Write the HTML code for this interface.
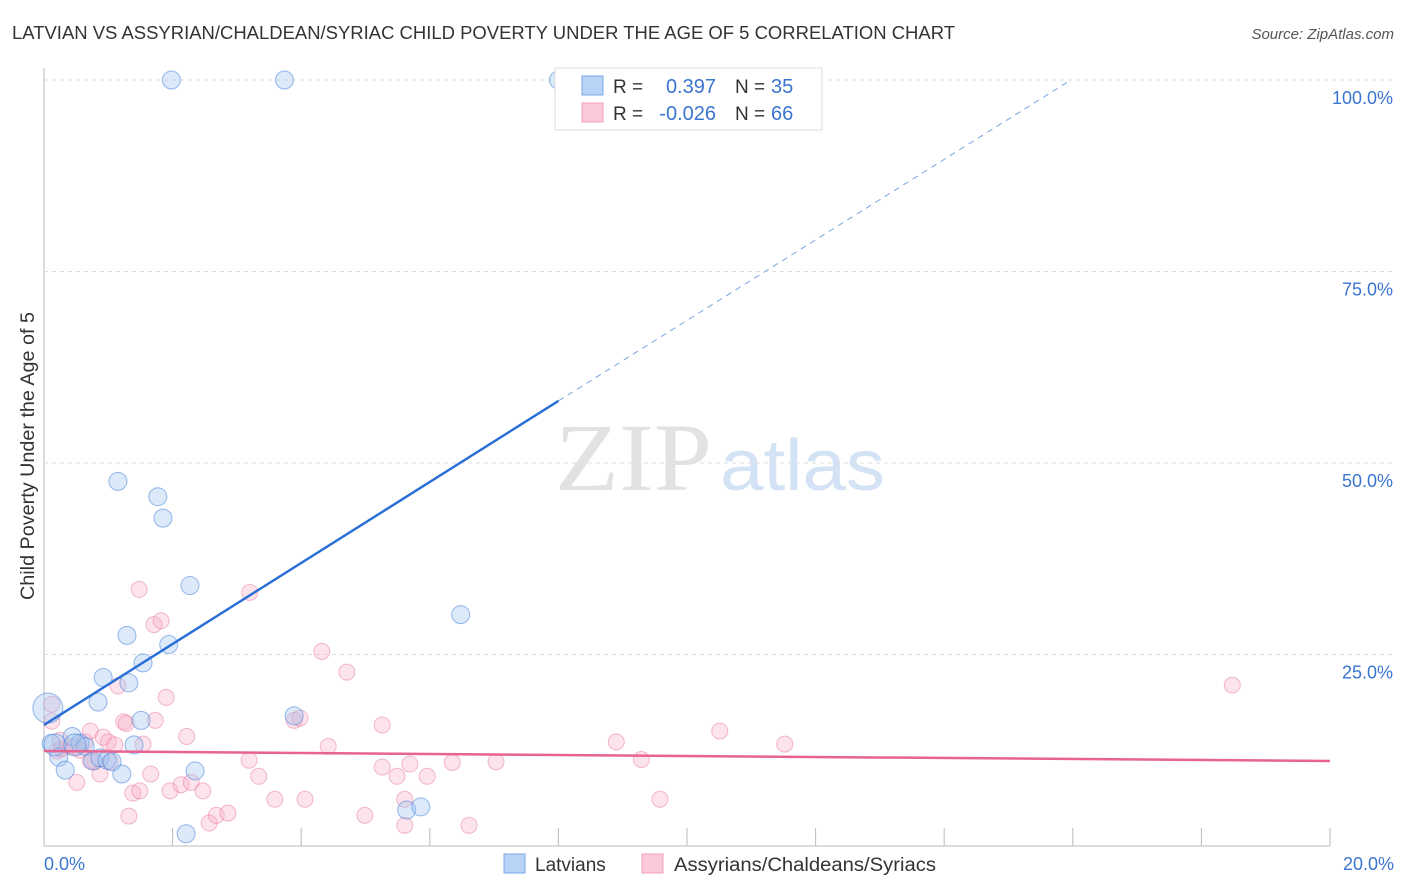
<!DOCTYPE html>
<html><head><meta charset="utf-8"><style>
body{margin:0;background:#fff;font-family:"Liberation Sans",sans-serif;}
svg{display:block}
</style></head><body>
<svg id="chart" width="1406" height="892">
<text x="12" y="39" font-size="18" fill="#333" textLength="943" lengthAdjust="spacingAndGlyphs">LATVIAN VS ASSYRIAN/CHALDEAN/SYRIAC CHILD POVERTY UNDER THE AGE OF 5 CORRELATION CHART</text>
<text x="1394" y="39" font-size="15" fill="#555" font-style="italic" text-anchor="end">Source: ZipAtlas.com</text>
<text x="34" y="456" font-size="19" fill="#333" text-anchor="middle" textLength="288" lengthAdjust="spacingAndGlyphs" transform="rotate(-90 34 456)">Child Poverty Under the Age of 5</text>
<g><text x="555" y="490" font-size="96" font-family="Liberation Serif,serif" fill="#e2e2e2" textLength="157" lengthAdjust="spacingAndGlyphs">ZIP</text><text x="720" y="490" font-size="72" fill="#d3e3f5" textLength="165" lengthAdjust="spacingAndGlyphs">atlas</text></g>
<g id="grid"></g><g id="pts"></g><g id="lines"></g>
<g>
<rect x="555" y="68" width="267" height="62" fill="#fff" stroke="#ddd"/>
<rect x="582" y="76" width="21" height="19" fill="#b8d3f5" stroke="#7aaae8"/>
<rect x="582" y="103" width="21" height="19" fill="#fcc9d8" stroke="#f0a0b8"/>
<text x="613" y="93" font-size="19" fill="#333">R =</text><text x="716" y="93" font-size="20" fill="#3a75d0" text-anchor="end">0.397</text>
<text x="735" y="93" font-size="19" fill="#333">N =</text><text x="771" y="93" font-size="20" fill="#3a75d0">35</text>
<text x="613" y="120" font-size="19" fill="#333">R =</text><text x="716" y="120" font-size="20" fill="#3a75d0" text-anchor="end">-0.026</text>
<text x="735" y="120" font-size="19" fill="#333">N =</text><text x="771" y="120" font-size="20" fill="#3a75d0">66</text>
</g>
<g>
<rect x="504" y="854" width="21" height="19" fill="#b8d3f5" stroke="#7aaae8"/>
<text x="535" y="871" font-size="19" fill="#333">Latvians</text>
<rect x="642" y="854" width="21" height="19" fill="#fcc9d8" stroke="#f0a0b8"/>
<text x="674" y="871" font-size="19" fill="#333" textLength="262" lengthAdjust="spacingAndGlyphs">Assyrians/Chaldeans/Syriacs</text>
</g>
</svg>
<script>
const yTicks=[100,75,50,25];
const xTickLabels=["0.0%","20.0%"];
const blueX=[1.98,3.74,8.0,1.15,1.77,1.85,2.27,6.48,1.29,1.94,1.54,0.92,1.32,0.84,1.51,3.89,0.06,0.11,0.23,0.33,0.44,0.56,0.64,0.76,0.87,0.98,1.21,1.4,2.35,2.21,5.64,5.86,0.17,0.48,1.06];
const blueY=[100,100,100,47.6,45.6,42.8,34.0,30.2,27.5,26.3,23.9,22.0,21.3,18.8,16.4,17.0,18.0,13.4,11.6,9.9,14.3,13.4,13.0,11.1,11.5,11.2,9.4,13.2,9.8,1.6,4.7,5.1,13.2,13.2,11.0];
const blueS=[9,9,9,9,9,9,9,9,9,9,9,9,9,9,9,9,15,9,9,9,9,9,9,9,9,9,9,9,9,9,9,9,11,11,9];
const pinkX=[0.12,0.12,0.2,0.28,0.4,0.51,0.64,0.72,0.79,0.87,0.92,1.0,1.03,1.15,1.24,1.28,1.32,1.38,1.48,1.49,1.54,1.66,1.71,1.82,1.9,1.96,2.13,2.22,2.29,2.47,2.57,2.68,2.86,3.19,3.2,3.34,3.59,4.06,3.89,4.32,4.42,4.71,4.99,5.26,5.26,5.49,5.61,5.61,5.69,5.96,6.35,6.61,7.03,8.9,9.29,9.58,10.51,11.52,18.48,0.48,0.56,0.25,1.73,1.1,3.98,0.72];
const pinkY=[18.5,16.3,12.4,12.7,13.0,8.3,13.6,15.0,11.0,9.4,14.2,13.6,11.0,20.9,16.2,16.0,3.9,6.9,33.5,7.2,13.3,9.4,28.9,29.4,19.4,7.2,8.0,14.3,8.3,7.2,3.0,4.0,4.3,11.2,33.1,9.1,6.1,6.1,16.4,25.4,13.0,22.7,4.0,15.8,10.3,9.1,6.1,2.7,10.7,9.1,10.9,2.7,11.0,13.6,11.3,6.1,15.0,13.3,21.0,12.9,12.5,13.8,16.4,13.2,16.7,11.1];
const blueLine=[0,15.8,8.0,58.1,15.97,100];
const pinkLine=[0,12.4,20,11.1];
const X0=44,X1=1330,Y0=846,Y100=80;
const xs=v=>X0+(X1-X0)*v/20, ys=v=>Y0-(Y0-Y100)*v/100;
const NS="http://www.w3.org/2000/svg";
function mk(t,a,p){const e=document.createElementNS(NS,t);for(const k in a)e.setAttribute(k,a[k]);p.appendChild(e);return e;}
const grid=document.getElementById('grid');
mk('line',{x1:44,y1:68,x2:44,y2:846,stroke:'#bbb'},grid);
mk('line',{x1:44,y1:846,x2:1330,y2:846,stroke:'#bbb'},grid);
yTicks.forEach(t=>{const y=ys(t);
 const l=mk('line',{x1:44,y1:y,x2:1394,y2:y,stroke:'#ddd','stroke-dasharray':'4,4'},grid);
 
 
 const tx=mk('text',{x:1393,y:y+24,'font-size':18,fill:'#3a75d0','text-anchor':'end'},grid);tx.textContent=t.toFixed(1)+'%';
 
 });
for(let i=1;i<=10;i++){const x=xs(i*2);mk('line',{x1:x,y1:828,x2:x,y2:846,stroke:'#bbb'},grid);}
const xl0=mk('text',{x:44,y:870,'font-size':18,fill:'#3a75d0'},grid);xl0.textContent=xTickLabels[0];


const xl1=mk('text',{x:1394,y:870,'font-size':18,fill:'#3a75d0','text-anchor':'end'},grid);xl1.textContent=xTickLabels[1];


const pts=document.getElementById('pts');
pinkX.forEach((v,i)=>{const c=mk('circle',{cx:xs(v),cy:ys(pinkY[i]),r:8,fill:'rgba(248,170,195,0.32)',stroke:'rgba(232,120,155,0.5)'},pts);
 
 });
blueX.forEach((v,i)=>{const c=mk('circle',{cx:xs(v),cy:ys(blueY[i]),r:blueS[i],fill:'rgba(160,196,240,0.38)',stroke:'rgba(70,130,220,0.55)'},pts);
 
 });
const lines=document.getElementById('lines');
const b1=mk('line',{x1:xs(blueLine[0]),y1:ys(blueLine[1]),x2:xs(blueLine[2]),y2:ys(blueLine[3]),stroke:'#2a6fd6','stroke-width':2.5},lines);


const b2=mk('line',{x1:xs(blueLine[2]),y1:ys(blueLine[3]),x2:xs(blueLine[4]),y2:ys(blueLine[5]),stroke:'#7aa6e0','stroke-width':1,'stroke-dasharray':'6,5'},lines);


const p1=mk('line',{x1:xs(pinkLine[0]),y1:ys(pinkLine[1]),x2:xs(pinkLine[2]),y2:ys(pinkLine[3]),stroke:'#e8638f','stroke-width':2.5},lines);


</script>
</body></html>
